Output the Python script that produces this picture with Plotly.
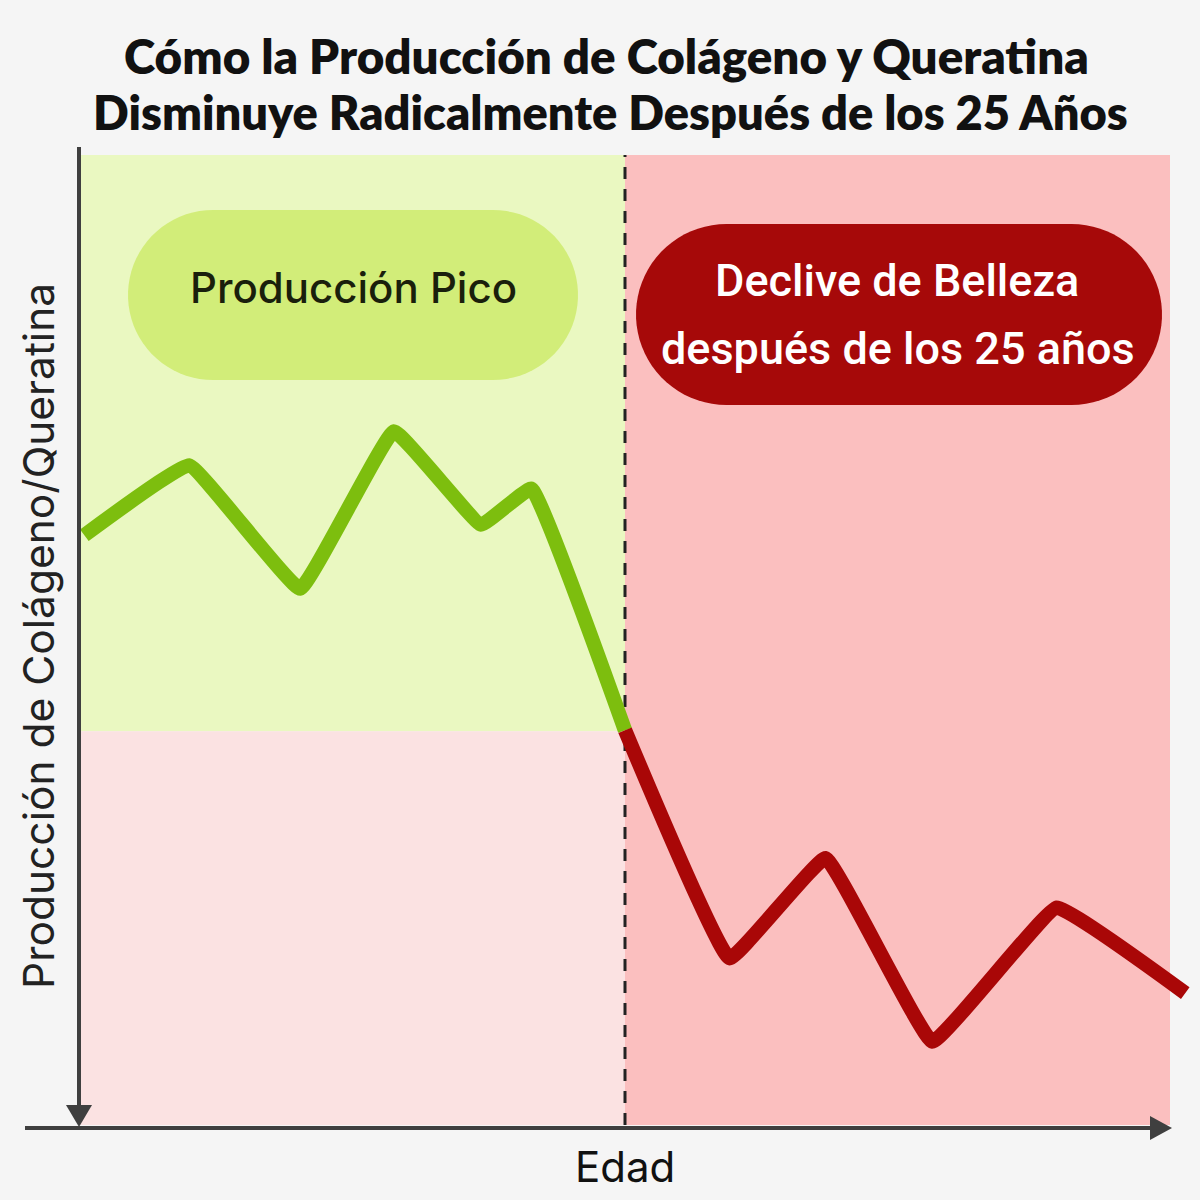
import numpy as np
import plotly.graph_objects as go

# ---------------- data ----------------
edad_pico = [0.2, 5.0, 10.1, 14.4, 18.4, 20.7, 25.0]
produccion_pico = [60.8, 68.0, 55.3, 71.5, 61.9, 65.6, 40.7]
edad_declive = [25.0, 29.8, 34.2, 39.1, 44.8, 50.7]
produccion_declive = [40.7, 17.2, 27.5, 8.6, 22.4, 13.6]

edad_corte = 25          # age where decline starts
umbral_pico = 40.6       # floor of the peak-production zone
edad_max = 50
produccion_max = 100

titulo_1 = "Cómo la Producción de Colágeno y Queratina"
titulo_2 = "Disminuye Radicalmente Después de los 25 Años"
etiqueta_pico = "Producción Pico"
etiqueta_declive_1 = "Declive de Belleza"
etiqueta_declive_2 = "después de los 25 años"
titulo_x = "Edad"
titulo_y = "Producción de Colágeno/Queratina"

# ---------------- layout geometry (pixels) ----------------
W = H = 1200
PX0, PX1 = 80, 1170      # x pixels for age 0 and age_max
PY0, PY1 = 1125, 155     # y pixels for production 0 and max
kx = (PX1 - PX0) / edad_max
ky = (PY0 - PY1) / produccion_max


def px2x(px):
    return (px - PX0) / kx


def py2y(py):
    return (PY0 - py) / ky


xr = [px2x(0), px2x(W)]
yr = [py2y(H), py2y(0)]

fig = go.Figure()

shapes = []
# background zones
shapes.append(dict(type="rect", xref="x", yref="y", x0=0, x1=edad_corte, y0=umbral_pico,
                   y1=produccion_max, fillcolor="#EAF8C1", line=dict(width=0), layer="below"))
shapes.append(dict(type="rect", xref="x", yref="y", x0=0, x1=edad_corte, y0=0,
                   y1=umbral_pico, fillcolor="#FBE2E2", line=dict(width=0), layer="below"))
shapes.append(dict(type="rect", xref="x", yref="y", x0=edad_corte, x1=edad_max, y0=0,
                   y1=produccion_max, fillcolor="#FBBFBF", line=dict(width=0), layer="below"))

# dashed divider
shapes.append(dict(type="line", xref="x", yref="y", x0=edad_corte, x1=edad_corte,
                   y0=0, y1=produccion_max, line=dict(color="#222222", width=3, dash="12px,10px"),
                   layer="below"))


def pill(x0, x1, y0, y1, n=40):
    r = (y1 - y0) / 2
    cy = (y0 + y1) / 2
    pts = []
    for t in np.linspace(-np.pi / 2, np.pi / 2, n):
        pts.append((x1 - r + r * np.cos(t), cy + r * np.sin(t)))
    for t in np.linspace(np.pi / 2, 3 * np.pi / 2, n):
        pts.append((x0 + r + r * np.cos(t), cy + r * np.sin(t)))
    d = "M " + " L ".join(f"{px2x(a):.4f},{py2y(b):.4f}" for a, b in pts) + " Z"
    return d


shapes.append(dict(type="path", xref="x", yref="y", path=pill(128, 578, 210, 380),
                   fillcolor="#D2ED79", line=dict(width=0), layer="below"))
shapes.append(dict(type="path", xref="x", yref="y", path=pill(636, 1162, 224, 405),
                   fillcolor="#A60909", line=dict(width=0), layer="below"))

# axes lines with arrows
AX = "#3F3F3F"
shapes.append(dict(type="line", xref="x", yref="y", x0=px2x(79), x1=px2x(79), y0=py2y(147),
                   y1=py2y(1108), line=dict(color=AX, width=4)))
shapes.append(dict(type="path", xref="x", yref="y",
                   path=f"M {px2x(66)},{py2y(1105)} L {px2x(92)},{py2y(1105)} L {px2x(79)},{py2y(1127)} Z",
                   fillcolor=AX, line=dict(width=0)))
shapes.append(dict(type="line", xref="x", yref="y", x0=px2x(25), x1=px2x(1152), y0=py2y(1128),
                   y1=py2y(1128), line=dict(color=AX, width=4)))
shapes.append(dict(type="path", xref="x", yref="y",
                   path=f"M {px2x(1150)},{py2y(1116)} L {px2x(1150)},{py2y(1140)} L {px2x(1172)},{py2y(1128)} Z",
                   fillcolor=AX, line=dict(width=0)))

# data lines
fig.add_trace(go.Scatter(x=edad_pico, y=produccion_pico, mode="lines",
                         line=dict(color="#7DBE0E", width=14.5, shape="spline", smoothing=0.25),
                         hoverinfo="skip", showlegend=False))
fig.add_trace(go.Scatter(x=edad_declive, y=produccion_declive, mode="lines",
                         line=dict(color="#A90707", width=14.5, shape="spline", smoothing=0.25),
                         hoverinfo="skip", showlegend=False))

ann = []
ann.append(dict(x=px2x(606), y=py2y(55), xref="x", yref="y", text=titulo_1, showarrow=False,
                font=dict(family="Lato", size=47.5, color="#111111", weight=800)))
ann.append(dict(x=px2x(610), y=py2y(112), xref="x", yref="y", text=titulo_2, showarrow=False,
                font=dict(family="Lato", size=47, color="#111111", weight=800)))
ann.append(dict(x=px2x(353), y=py2y(287), xref="x", yref="y", text=etiqueta_pico, showarrow=False,
                font=dict(family="Inter", size=42, color="#1A1F0C", weight=500)))
ann.append(dict(x=px2x(897), y=py2y(280), xref="x", yref="y", text=etiqueta_declive_1, showarrow=False,
                font=dict(family="Roboto", size=45, color="#FFFFFF", weight=500)))
ann.append(dict(x=px2x(898), y=py2y(348), xref="x", yref="y", text=etiqueta_declive_2, showarrow=False,
                font=dict(family="Roboto", size=45, color="#FFFFFF", weight=500)))
ann.append(dict(x=px2x(625), y=py2y(1166), xref="x", yref="y", text=titulo_x, showarrow=False,
                font=dict(family="Inter", size=42, color="#111111")))
ann.append(dict(x=px2x(38), y=py2y(636), xref="x", yref="y", text=titulo_y, showarrow=False,
                textangle=-90, font=dict(family="Inter", size=42.5, color="#222222")))

fig.update_layout(
    width=W, height=H,
    margin=dict(l=0, r=0, t=0, b=0),
    paper_bgcolor="#F5F5F5", plot_bgcolor="#F5F5F5",
    xaxis=dict(range=xr, visible=False, fixedrange=True),
    yaxis=dict(range=yr, visible=False, fixedrange=True),
    shapes=shapes, annotations=ann,
)

fig.write_html("out.html", config={"displayModeBar": False},
               post_script="document.body.style.margin='0';document.body.style.background='#F5F5F5';")
